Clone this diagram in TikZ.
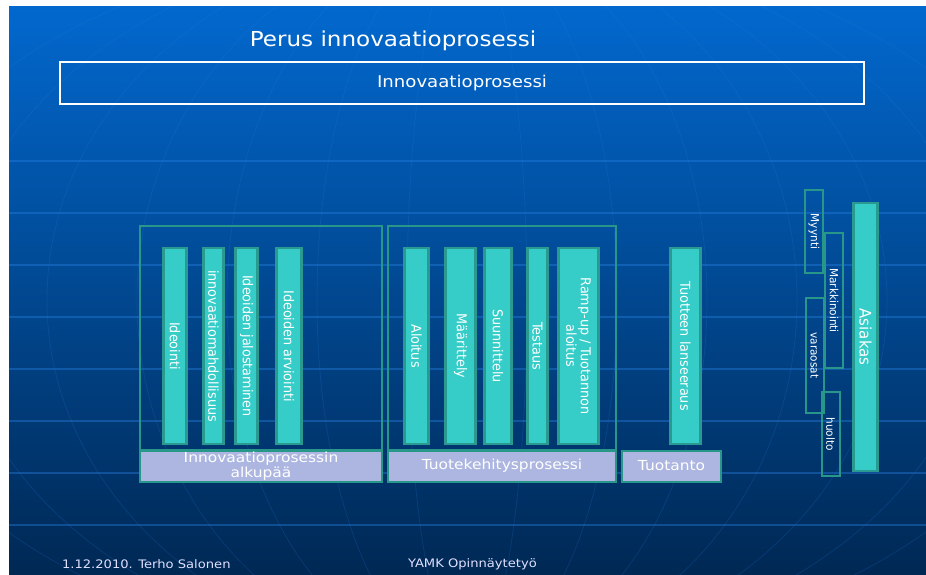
\documentclass[tikz,border=0pt]{standalone}
\usepackage{fontspec}
\setmainfont{DejaVu Sans}
\newfontfamily\widefont[FakeStretch=1.12]{DejaVu Sans}
\newfontfamily\narrowfont[FakeStretch=0.94]{DejaVu Sans}
\usepackage{xcolor}
\usepackage{tikz}

\definecolor{slidetop}{RGB}{2,104,206}
\definecolor{slidemid}{RGB}{6,76,156}
\definecolor{slidebot}{RGB}{0,40,84}
\definecolor{gridline}{RGB}{40,128,226}
\definecolor{barfill}{RGB}{54,204,200}
\definecolor{barline}{RGB}{42,154,144}
\definecolor{grpline}{RGB}{40,150,136}
\definecolor{lblfill}{RGB}{172,182,224}

\begin{document}
\begin{tikzpicture}[x=1pt,y=-1pt,
    every node/.style={inner sep=0pt, outer sep=0pt, text=white},
    frame/.style={draw=grpline, line width=2pt},
    phase/.style={draw=grpline, fill=lblfill, line width=2pt, minimum height=31, font=\widefont\fontsize{13.8}{15}\selectfont, align=center},
    stage/.style={draw=barline, fill=barfill, line width=2.4pt, rotate=-90, minimum width=196, minimum height=#1, font=\narrowfont\fontsize{13.6}{14.5}\selectfont, align=center},
    tag/.style={draw=grpline, line width=2pt, rotate=-90, minimum width=#1, minimum height=18, font=\narrowfont\fontsize{11.2}{12}\selectfont}]

        \useasboundingbox (0,0) rectangle (926,574);
        \fill[white] (0,0) rectangle (926,574);
        \shade[top color=slidetop, middle color=slidemid, bottom color=slidebot] (9,6) rectangle (926,574);

        \begin{scope}
            \clip (9,6) rectangle (926,574);
            \foreach \y in {161,213,...,525}
                \draw[gridline, line width=1.2pt, opacity=.4] (9,\y) -- (926,\y);
            \foreach \r in {60,150,240,330,420,510,600}
                \draw[gridline, line width=.8pt, opacity=.18] (467,300) ellipse [x radius=\r, y radius=360];
        \end{scope}

        % otsikko
        \node[font=\widefont\fontsize{20.6}{22}\selectfont] (title) at (393,41) {Perus innovaatioprosessi};
        \node[draw=white, line width=2pt, minimum width=804, minimum height=42, font=\widefont\fontsize{16.2}{18}\selectfont] (ip) at (462,83) {Innovaatioprosessi};

        % alkupaa
        \node[frame, minimum width=242, minimum height=224] (alku) at (261,338) {};
        \node[phase, minimum width=242] (alkuL) at (261,466.5) {Innovaatioprosessin\\alkupää};
        \node[stage=23] (ideointi) at (175,346) {Ideointi};
        \node[stage=20] (mahd) at (213.5,346) {innovaatiomahdollisuus};
        \node[stage=22] (jalostus) at (246.5,346) {Ideoiden jalostaminen};
        \node[stage=25] (arviointi) at (289,346) {Ideoiden arviointi};

        % tuotekehitys
        \node[frame, minimum width=228, minimum height=224] (tk) at (502,338) {};
        \node[phase, minimum width=228] (tkL) at (502,466) {Tuotekehitysprosessi};
        \node[stage=24] (aloitus) at (416.5,346) {Aloitus};
        \node[stage=30] (maarittely) at (460.5,346) {Määrittely};
        \node[stage=27] (suunnittelu) at (498,346) {Suunnittelu};
        \node[stage=20] (testaus) at (537.5,346) {Testaus};
        \node[stage=40] (rampup) at (578.5,346) {Ramp-up / Tuotannon\\aloitus};

        % tuotanto
        \node[phase, minimum width=99] (tuotL) at (671.5,466) {Tuotanto};
        \node[stage=30] (lanseeraus) at (685.5,346) {Tuotteen lanseeraus};

        % asiakas
        \node[tag=83] (myynti) at (814,231.5) {Myynti};
        \node[tag=135] (markk) at (834,300.5) {Markkinointi};
        \node[tag=115] (varaosat) at (814.5,355.5) {varaosat};
        \node[tag=84] (huolto) at (830.5,434) {huolto};
        \node[draw=barline, fill=barfill, line width=2.4pt, rotate=-90, minimum width=268, minimum height=24, font=\narrowfont\fontsize{15.9}{17}\selectfont] (asiakas) at (865.5,337) {Asiakas};

        \node[anchor=west, text=white!88!blue, font=\widefont\fontsize{11.7}{13}\selectfont] (pvm) at (62,564) {1.12.2010. Terho Salonen};
        \node[anchor=west, text=white!88!blue, font=\widefont\fontsize{11.7}{13}\selectfont] (yamk) at (408,564) {YAMK Opinnäytetyö};
    \end{tikzpicture}
\end{document}
